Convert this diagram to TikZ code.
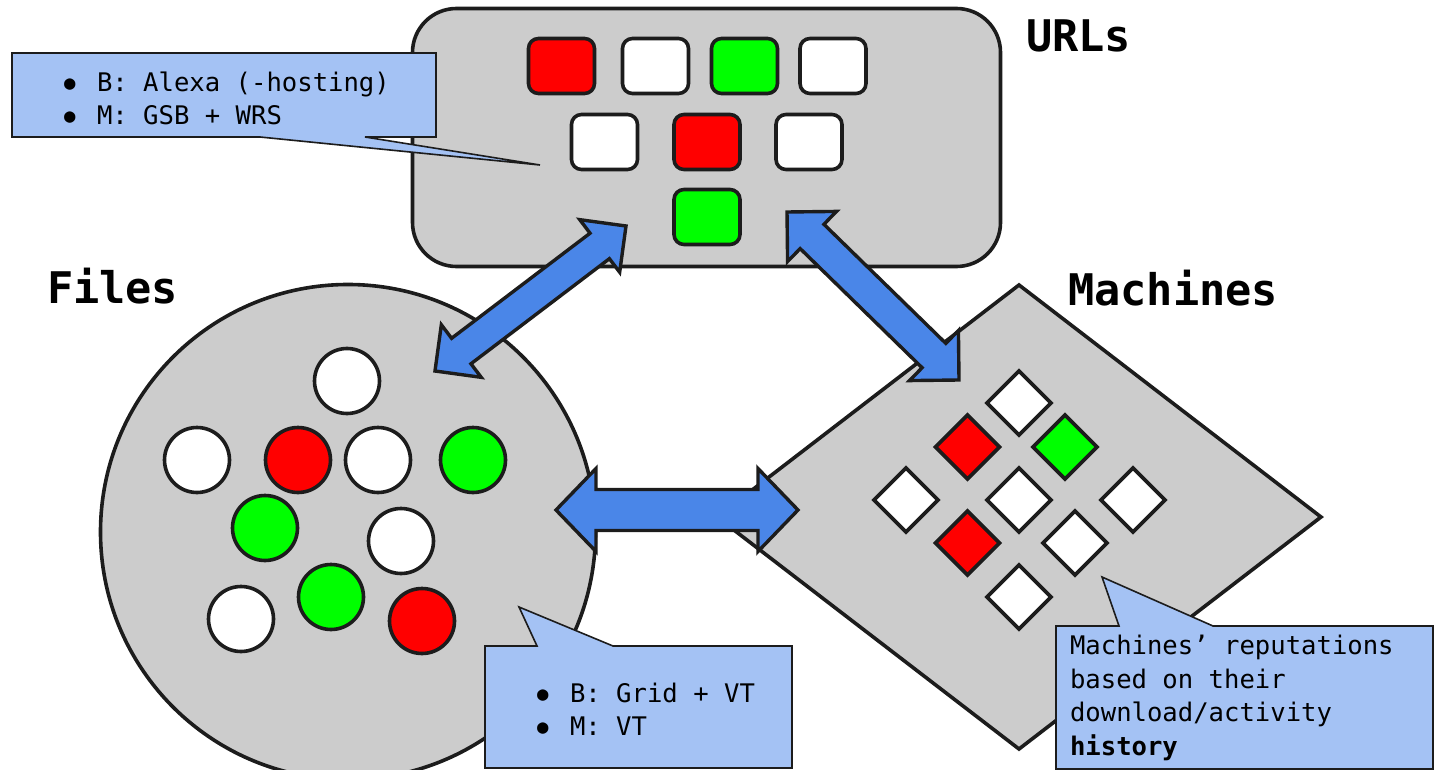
\documentclass[tikz,border=0pt]{standalone}
\usepackage{xcolor}
\usepackage{fontspec}
\setmainfont{DejaVu Sans Mono}
\setmonofont{DejaVu Sans Mono}
\usepackage{tikz}
\usetikzlibrary{calc, shapes.geometric}

\definecolor{panel}{HTML}{CCCCCC}
\definecolor{edge}{HTML}{1C1C1C}
\definecolor{badred}{HTML}{FF0000}
\definecolor{goodgreen}{HTML}{00FF00}
\definecolor{linkblue}{HTML}{4A86E8}
\definecolor{notefill}{HTML}{A4C2F4}

% bullet for the notes
\newcommand{\bul}{\makebox[16.5pt][l]{\raisebox{1pt}{\fontsize{9.5pt}{9.5pt}\selectfont ●}}}

% fat two-headed arrow: from, to, shaft half-width, head length, head half-width
\newcommand{\fatarrow}[5]{%
  \draw[link] (#1)
    -- ($(#1)!#4!(#2)!#5!90:(#2)$)
    -- ($(#1)!#4!(#2)!#3!90:(#2)$)
    -- ($(#2)!#4!(#1)!#3!-90:(#1)$)
    -- ($(#2)!#4!(#1)!#5!-90:(#1)$)
    -- (#2)
    -- ($(#2)!#4!(#1)!#5!90:(#1)$)
    -- ($(#2)!#4!(#1)!#3!90:(#1)$)
    -- ($(#1)!#4!(#2)!#3!-90:(#2)$)
    -- ($(#1)!#4!(#2)!#5!-90:(#2)$)
    -- cycle;}

\begin{document}
\begin{tikzpicture}[
    x=0.5pt, y=-0.5pt,
    every node/.style={inner sep=0pt, outer sep=0pt},
    group/.style={draw=edge, fill=panel, line width=1.8pt},
    urlbox/.style={group, rectangle, rounded corners=22pt,
        minimum width=294pt, minimum height=129pt},
    filedisc/.style={group, circle, minimum size=247.5pt},
    machbox/.style={group, diamond, minimum width=302pt, minimum height=232pt},
    item/.style={draw=edge, line width=1.8pt},
    urlitem/.style={item, rectangle, rounded corners=5pt,
        minimum width=33pt, minimum height=27.5pt},
    fileitem/.style={item, circle, minimum size=32.5pt},
    machitem/.style={item, diamond, minimum width=32pt, minimum height=32pt},
    link/.style={draw=edge, fill=linkblue, line width=1.7pt, line join=miter},
    note/.style={draw=edge, fill=notefill, line width=0.8pt},
    notetext/.style={align=left, font=\fontsize{12.8pt}{16.6pt}\selectfont},
    title/.style={font=\fontsize{21.8pt}{26pt}\selectfont\bfseries}
]
\useasboundingbox (0,0) rectangle (1439,770);
\clip (0,0) rectangle (1439,770);

% the three groups
\node[urlbox] (urls) at (706.5,137.5) {};
\node[filedisc] (files) at (348,532) {};
\node[machbox] (machines) at (1019,517) {};

% URLs
\foreach \x/\y/\c [count=\i] in {561.5/66/badred, 655.5/66/white,
    744.5/66/goodgreen, 833/66/white, 604.5/142/white, 707/142/badred,
    809/142/white, 707/217/goodgreen}
  \node[urlitem, fill=\c] (url\i) at (\x,\y) {};

% files
\foreach \x/\y/\c [count=\i] in {347/381/white, 197/460/white,
    298/460/badred, 378/460/white, 473/460/goodgreen, 265/528/goodgreen,
    401/541/white, 241/619/white, 331/597/goodgreen, 422/621/badred}
  \node[fileitem, fill=\c] (file\i) at (\x,\y) {};

% machines
\foreach \x/\y/\c [count=\i] in {1019/403/white, 967.5/447/badred,
    1065/447/goodgreen, 906/500/white, 1019/500/white, 1133/500/white,
    967.5/543/badred, 1075/543/white, 1019/597/white}
  \node[machitem, fill=\c] (mach\i) at (\x,\y) {};

% links between the groups
\coordinate (fileend1) at (435,371);
\coordinate (urlend1) at (626,226);
\coordinate (urlend2) at (787,212);
\coordinate (machend1) at (959,380);
\coordinate (fileend2) at (556,510);
\coordinate (machend2) at (798,510);

\fatarrow{fileend1}{urlend1}{8pt}{16.5pt}{16.5pt}
\fatarrow{urlend2}{machend1}{8.5pt}{17.5pt}{17.5pt}
\fatarrow{fileend2}{machend2}{10.25pt}{20pt}{20.75pt}

% notes
\draw[note] (12,53) -- (436,53) -- (436,137) -- (365,137) -- (540,165)
  -- (260,137) -- (12,137) -- cycle;
\node[notetext, anchor=west] (urlnote) at (64,98.5)
  {\bul B: Alexa (-hosting)\\\bul M: GSB + WRS};

\draw[note] (485,646) -- (537,646) -- (519,607) -- (613,646) -- (792,646)
  -- (792,768) -- (485,768) -- cycle;
\node[notetext, anchor=west] (filenote) at (537,709)
  {\bul B: Grid + VT\\\bul M: VT};

\draw[note] (1056,626) -- (1119,626) -- (1102,577) -- (1213,626)
  -- (1433,626) -- (1433,769) -- (1056,769) -- cycle;
\node[notetext, anchor=west, font=\fontsize{12.8pt}{16.75pt}\selectfont]
  (machnote) at (1070,698)
  {Machines’ reputations\\based on their\\download/activity\\\textbf{history}};

% titles
\node[title, anchor=base west] (urltitle) at (1026,52) {URLs};
\node[title, anchor=base west] (filetitle) at (47,303) {Files};
\node[title, anchor=base west] (machtitle) at (1068,305) {Machines};

\end{tikzpicture}
\end{document}
